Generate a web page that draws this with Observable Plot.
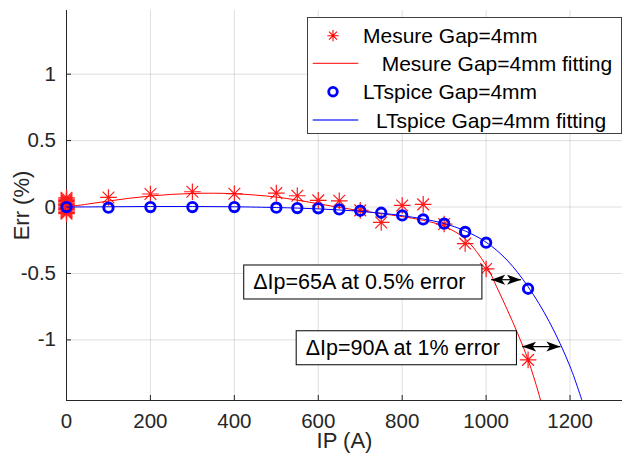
<!DOCTYPE html>
<html>
<head>
<meta charset="utf-8">
<script src="https://cdn.jsdelivr.net/npm/d3@7"></script>
<script src="https://cdn.jsdelivr.net/npm/@observablehq/plot@0.6"></script>
<style>
  body { margin: 0; background: #fff; }
  #chart { position: relative; width: 624px; height: 457px; }
</style>
</head>
<body>
<div id="chart"></div>
<script>
// ---- Data ----
const measureIp  = [0,0,0,0,0,0,0,0,0,0,0,0,0, 100,200,300,400,500,550,600,650,700,750,800,850,900,950,1000,1100];
const measureErr = [0.07,0.06,0.05,0.04,0.03,0.02,0.01,0,-0.01,-0.02,-0.03,-0.04,-0.05,
                    0.072,0.098,0.115,0.1,0.105,0.085,0.05,0.047,-0.025,-0.116,0.012,0.02,-0.128,-0.275,-0.466,-1.15];

const spiceIp  = [0,100,200,300,400,500,550,600,650,700,750,800,850,900,950,1000,1100];
const spiceErr = [0,-0.005,0,0,0,-0.005,-0.008,-0.01,-0.018,-0.028,-0.043,-0.063,-0.093,-0.125,-0.187,-0.268,-0.615];

const measureFitIp  = [0,50,100,150,200,250,300,350,400,450,500,550,600,650,700,750,800,850,900,950,1000,1025,1050,1075,1100,1125,1135];
const measureFitErr = [0,0.022,0.045,0.066,0.083,0.095,0.102,0.104,0.1,0.09,0.075,0.052,0.025,-0.003,-0.028,-0.05,-0.072,-0.1,-0.145,-0.24,-0.44,-0.6,-0.77,-0.95,-1.15,-1.4,-1.52];

const spiceFitIp  = [0,100,200,300,400,500,550,600,650,700,750,800,850,900,950,1000,1050,1100,1150,1200,1235];
const spiceFitErr = [0,0.002,0.004,0.004,0.002,-0.004,-0.008,-0.014,-0.022,-0.032,-0.046,-0.065,-0.09,-0.124,-0.18,-0.265,-0.4,-0.6,-0.86,-1.2,-1.52];

const seriesNames = ["Mesure Gap=4mm", "Mesure Gap=4mm fitting", "LTspice Gap=4mm", "LTspice Gap=4mm fitting"];

const xTicks = [0, 200, 400, 600, 800, 1000, 1200];
const yTicks = [-1, -0.5, 0, 0.5, 1];
const xDomain = [0, 1325];
const yDomain = [-1.456, 1.479];

// annotations (data-space anchors)
const annoText = ["\u0394Ip=65A at 0.5% error", "\u0394Ip=90A at 1% error"];
const annoIp   = [445, 570];
const annoErr  = [-0.565, -1.06];
const arrowErr  = [-0.547, -1.05];
const arrowFrom = [1012, 1086];
const arrowTo   = [1083, 1177];

// ---- build tables ----
const measurePts = measureIp.map((x, i) => ({x, y: measureErr[i]}));
const spicePts = spiceIp.map((x, i) => ({x, y: spiceErr[i]}));
const measureFit = measureFitIp.map((x, i) => ({x, y: measureFitErr[i]}));
const spiceFit = spiceFitIp.map((x, i) => ({x, y: spiceFitErr[i]}));
const annos = annoText.map((t, i) => ({t, x: annoIp[i], y: annoErr[i]}));
const arrows = arrowErr.map((y, i) => ({y, x1: arrowFrom[i], x2: arrowTo[i]}));

const font = '"Liberation Sans", Arial, Helvetica, sans-serif';
const ink = "#262626";

// 8-spoke asterisk like MATLAB '*'
const star8 = {
  draw(ctx, size) {
    const r = Math.sqrt(size / Math.PI), d = r * Math.SQRT1_2;
    ctx.moveTo(-r, 0); ctx.lineTo(r, 0);
    ctx.moveTo(0, -r); ctx.lineTo(0, r);
    ctx.moveTo(-d, -d); ctx.lineTo(d, d);
    ctx.moveTo(-d, d); ctx.lineTo(d, -d);
  }
};

const fmt = d => String(d);

const plot = Plot.plot({
  width: 624,
  height: 457,
  marginLeft: 66,
  marginRight: 2,
  marginTop: 10,
  marginBottom: 57,
  style: {fontFamily: font, fontSize: "20.5px", color: ink, background: "#fff", overflow: "visible"},
  x: {domain: xDomain},
  y: {domain: yDomain},
  marks: [
    Plot.gridX(xTicks, {stroke: ink, strokeOpacity: 0.15}),
    Plot.gridY(yTicks, {stroke: ink, strokeOpacity: 0.15}),
    Plot.axisX(xTicks, {tickSize: -5, tickPadding: 17.5, tickFormat: fmt, label: "IP (A)", labelAnchor: "center", labelOffset: 47, fontSize: 20.5, stroke: ink}),
    Plot.axisY(yTicks, {tickSize: -5, tickPadding: 15.5, tickFormat: fmt, label: "Err (%)", labelAnchor: "center", labelOffset: 53, fontSize: 20.5, stroke: ink}),
    Plot.ruleX([xDomain[0]], {stroke: ink}),
    Plot.ruleY([yDomain[0]], {stroke: ink}),
    Plot.dot(measurePts, {x: "x", y: "y", symbol: star8, r: 8.3, stroke: "#ff1a1a", fill: "none", strokeWidth: 1.2}),
    Plot.line(measureFit, {x: "x", y: "y", curve: "catmull-rom", stroke: "red", strokeWidth: 1, clip: true}),
    Plot.dot(spicePts, {x: "x", y: "y", symbol: "circle", r: 4.7, stroke: "blue", fill: "none", strokeWidth: 2.9}),
    Plot.line(spiceFit, {x: "x", y: "y", curve: "catmull-rom", stroke: "blue", strokeWidth: 1, clip: true}),
    Plot.link(arrows, {x1: "x1", x2: "x2", y1: "y", y2: "y", stroke: "black", strokeWidth: 1.2}),
    Plot.text(annos, {x: "x", y: "y", text: "t", textAnchor: "start", fontSize: 21.5, fill: "black"})
  ]
});

document.getElementById("chart").append(plot);

// ---- post-processing ----
const svg = d3.select(plot);

// axis labels: size, and drop any automatic arrow
svg.selectAll("text").each(function () {
  const t = this.textContent;
  if (/IP \(A\)|Err \(%\)/.test(t)) {
    const clean = t.replace(/[\u2190-\u2193]/g, "").trim();
    d3.select(this).selectAll("tspan").remove();
    d3.select(this).text(clean).attr("font-size", 22);
  }
});

// double arrow heads
const defs = svg.insert("defs", ":first-child");
defs.append("marker")
  .attr("id", "ahead")
  .attr("viewBox", "0 -6 14 12")
  .attr("refX", 14).attr("refY", 0)
  .attr("markerWidth", 14).attr("markerHeight", 12)
  .attr("markerUnits", "userSpaceOnUse")
  .attr("orient", "auto-start-reverse")
  .append("path")
  .attr("d", "M0,-5L14,0L0,5L3.5,0Z")
  .attr("fill", "black");
svg.selectAll('g[aria-label="link"] path')
  .attr("marker-start", "url(#ahead)")
  .attr("marker-end", "url(#ahead)");

// boxes around annotation texts
svg.selectAll('g[aria-label="text"] text').each(function () {
  const b = this.getBBox();
  d3.select(this.parentNode).insert("rect", () => this)
    .attr("transform", this.getAttribute("transform"))
    .attr("x", b.x - 9.5)
    .attr("y", b.y - 5)
    .attr("width", b.width + 26)
    .attr("height", b.height + 10)
    .attr("fill", "white")
    .attr("stroke", "black")
    .attr("stroke-width", 1);
});

// legend
const lg = svg.append("g")
  .attr("font-family", font).attr("font-size", 21).attr("fill", "#000")
  .attr("text-anchor", "start");
lg.append("rect")
  .attr("x", 307.5).attr("y", 17.5).attr("width", 314).attr("height", 116)
  .attr("fill", "white").attr("stroke", "#404040").attr("stroke-width", 1);
const rowY = [35.7, 63.3, 91.7, 120];
const textX = [363, 381.7, 363, 376];
lg.append("path")
  .attr("transform", `translate(333,${rowY[0]})`)
  .attr("d", d3.symbol().type(star8).size(Math.PI * 32)())
  .attr("fill", "none").attr("stroke", "red").attr("stroke-width", 1.1);
lg.append("line").attr("x1", 312.7).attr("x2", 358.3).attr("y1", rowY[1]).attr("y2", rowY[1])
  .attr("stroke", "red").attr("stroke-width", 1);
lg.append("circle").attr("cx", 333).attr("cy", rowY[2]).attr("r", 4.3)
  .attr("fill", "none").attr("stroke", "blue").attr("stroke-width", 2.8);
lg.append("line").attr("x1", 312.7).attr("x2", 358.3).attr("y1", rowY[3]).attr("y2", rowY[3])
  .attr("stroke", "#6f6fff").attr("stroke-width", 2);
seriesNames.forEach((name, i) => {
  lg.append("text").attr("x", textX[i]).attr("y", rowY[i]).attr("dy", "0.36em").text(name);
});
</script>
</body>
</html>
